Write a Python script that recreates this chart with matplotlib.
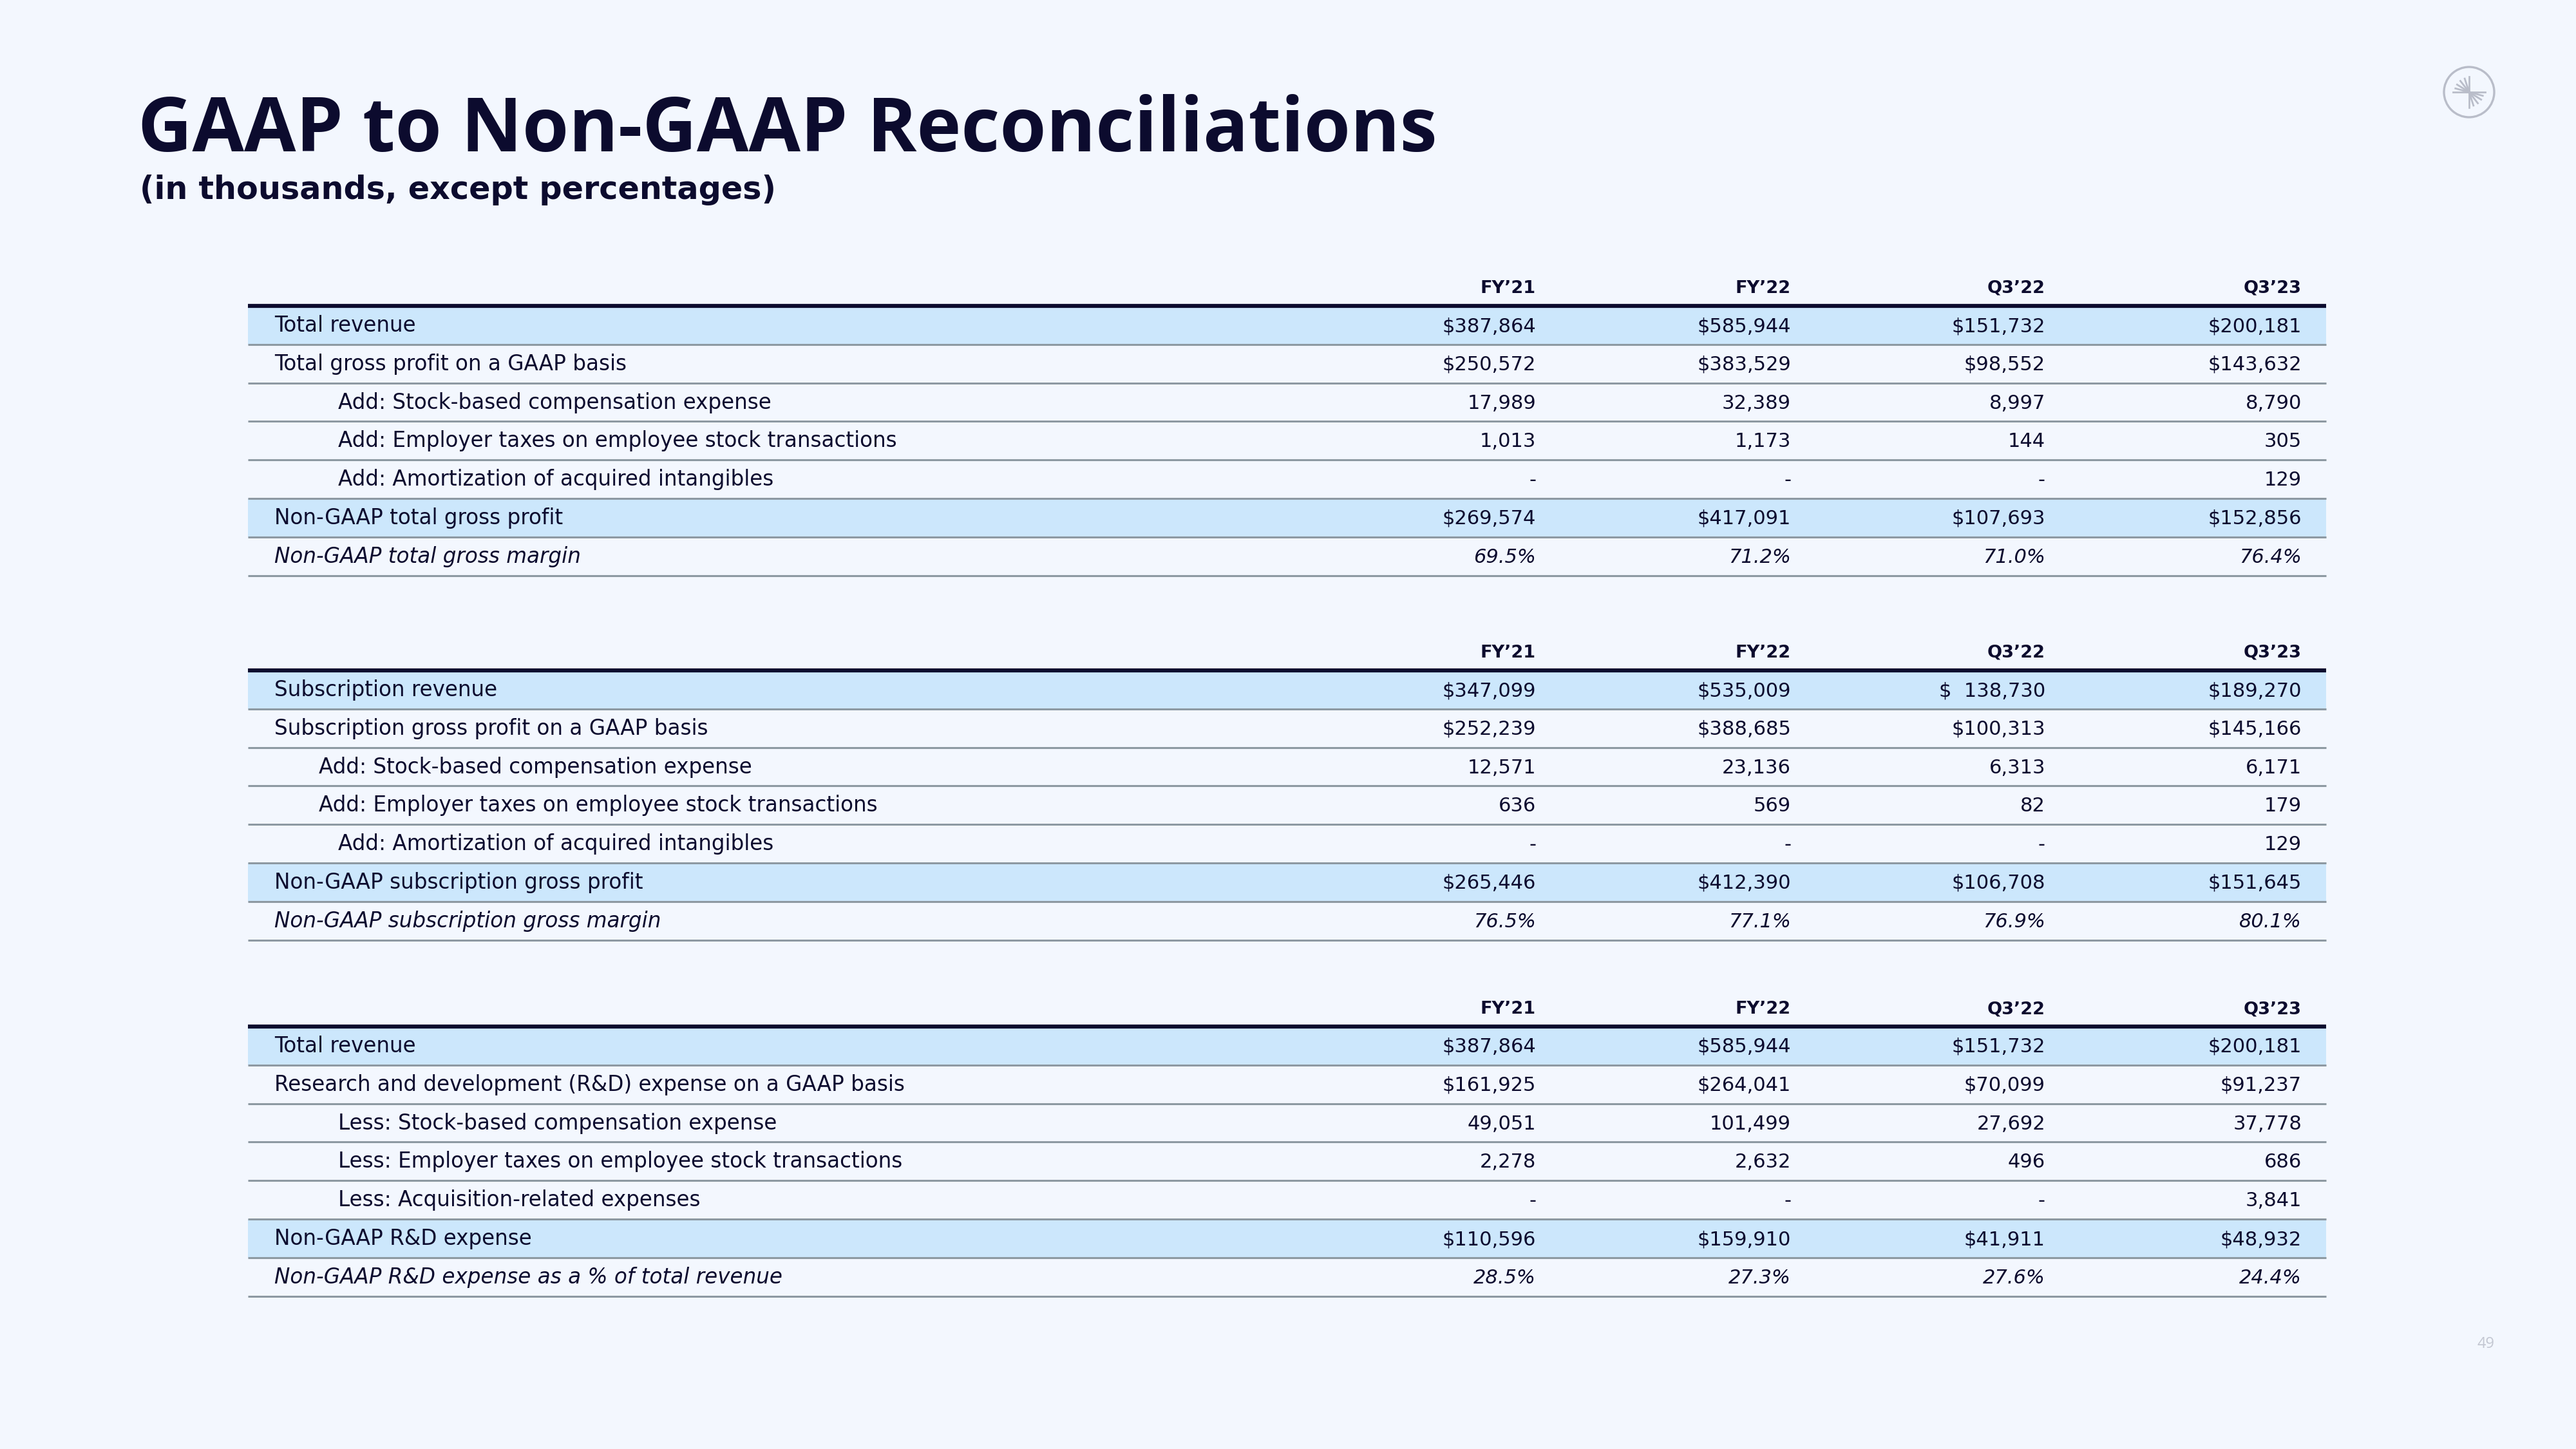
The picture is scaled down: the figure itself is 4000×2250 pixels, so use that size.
import matplotlib.pyplot as plt
from matplotlib.patches import Rectangle, Circle
import numpy as np

# ---- data ----
periods = ["FY\u201921", "FY\u201922", "Q3\u201922", "Q3\u201923"]

gross_labels = [
    "Total revenue",
    "Total gross profit on a GAAP basis",
    "Add: Stock-based compensation expense",
    "Add: Employer taxes on employee stock transactions",
    "Add: Amortization of acquired intangibles",
    "Non-GAAP total gross profit",
    "Non-GAAP total gross margin",
]
gross_values = [
    ["$387,864", "$585,944", "$151,732", "$200,181"],
    ["$250,572", "$383,529", "$98,552", "$143,632"],
    ["17,989", "32,389", "8,997", "8,790"],
    ["1,013", "1,173", "144", "305"],
    ["-", "-", "-", "129"],
    ["$269,574", "$417,091", "$107,693", "$152,856"],
    ["69.5%", "71.2%", "71.0%", "76.4%"],
]

sub_labels = [
    "Subscription revenue",
    "Subscription gross profit on a GAAP basis",
    "Add: Stock-based compensation expense",
    "Add: Employer taxes on employee stock transactions",
    "Add: Amortization of acquired intangibles",
    "Non-GAAP subscription gross profit",
    "Non-GAAP subscription gross margin",
]
sub_values = [
    ["$347,099", "$535,009", "$  138,730", "$189,270"],
    ["$252,239", "$388,685", "$100,313", "$145,166"],
    ["12,571", "23,136", "6,313", "6,171"],
    ["636", "569", "82", "179"],
    ["-", "-", "-", "129"],
    ["$265,446", "$412,390", "$106,708", "$151,645"],
    ["76.5%", "77.1%", "76.9%", "80.1%"],
]

rd_labels = [
    "Total revenue",
    "Research and development (R&D) expense on a GAAP basis",
    "Less: Stock-based compensation expense",
    "Less: Employer taxes on employee stock transactions",
    "Less: Acquisition-related expenses",
    "Non-GAAP R&D expense",
    "Non-GAAP R&D expense as a % of total revenue",
]
rd_values = [
    ["$387,864", "$585,944", "$151,732", "$200,181"],
    ["$161,925", "$264,041", "$70,099", "$91,237"],
    ["49,051", "101,499", "27,692", "37,778"],
    ["2,278", "2,632", "496", "686"],
    ["-", "-", "-", "3,841"],
    ["$110,596", "$159,910", "$41,911", "$48,932"],
    ["28.5%", "27.3%", "27.6%", "24.4%"],
]

# ---- style / layout ----
BG = "#f3f7fe"
NAVY = "#0c0b2e"
BAND = "#cce7fc"
RULE = "#8d99a2"
GREY = "#b9bdc9"
TITLE_FONT = "Open Sans"
BODY_FONT = "DejaVu Sans"

TABLE_X0, TABLE_X1 = 385, 3612
LABEL_X = 426
COL_RIGHT = [2385, 2781, 3176, 3574]
ROW_H = 59.8
BAND_ROWS = (0, 5)
ITALIC_ROWS = (6,)

fig = plt.figure(figsize=(40, 22.5), dpi=100)
fig.patch.set_facecolor(BG)
ax = fig.add_axes([0, 0, 1, 1])
ax.set_xlim(0, 4000)
ax.set_ylim(2250, 0)
ax.axis("off")

ax.text(214, 235, "GAAP to Non-GAAP Reconciliations", fontsize=84,
        fontweight="bold", color=NAVY, family=TITLE_FONT, va="baseline")
ax.text(217, 309, "(in thousands, except percentages)", fontsize=35.5,
        fontweight="bold", color=NAVY, family=BODY_FONT, va="baseline")


def draw_table(top, labels, values, indents):
    # top = y of the thick rule under the header
    for j, p in enumerate(periods):
        ax.text(COL_RIGHT[j], top - 20, p, ha="right", va="baseline",
                fontsize=19.5, fontweight="bold", color=NAVY, family=BODY_FONT)
    for i, (lab, row) in enumerate(zip(labels, values)):
        y0 = top + i * ROW_H
        if i in BAND_ROWS:
            ax.add_patch(Rectangle((TABLE_X0, y0), TABLE_X1 - TABLE_X0, ROW_H,
                                   facecolor=BAND, edgecolor="none", zorder=0))
        style = "italic" if i in ITALIC_ROWS else "normal"
        ax.text(LABEL_X + indents[i], y0 + 40, lab, va="baseline", ha="left",
                fontsize=23.5, color=NAVY, family=BODY_FONT, style=style)
        for j, v in enumerate(row):
            ax.text(COL_RIGHT[j], y0 + 40, v, va="baseline", ha="right",
                    fontsize=22, color=NAVY, family=BODY_FONT, style=style)
        ax.hlines(y0 + ROW_H, TABLE_X0, TABLE_X1, color=RULE, lw=2.2, zorder=2)
    ax.hlines(top, TABLE_X0, TABLE_X1, color=NAVY, lw=4.5, zorder=3)


draw_table(475, gross_labels, gross_values, [0, 0, 99, 99, 99, 0, 0])
draw_table(1041, sub_labels, sub_values, [0, 0, 69, 69, 99, 0, 0])
draw_table(1594, rd_labels, rd_values, [0, 0, 99, 99, 99, 0, 0])

# logo, top right
cx, cy, r = 3834, 143, 39
ax.add_patch(Circle((cx, cy), r, fill=False, edgecolor=GREY, lw=2.4))
ax.plot([cx, cx], [cy - 24, cy + 24], color=GREY, lw=2)
ax.plot([cx - 25, cx + 25], [cy, cy], color=GREY, lw=2)
for a in (108, 128, 148, 165):
    for s in (0, 180):
        t = np.radians(a + s)
        ax.plot([cx, cx + 22 * np.cos(t)], [cy, cy - 22 * np.sin(t)],
                color=GREY, lw=2)

ax.text(3860, 2087, "49", fontsize=17, color="#c3c7d2", family=TITLE_FONT,
        ha="center", va="center")

fig.savefig("out.png", dpi=100, facecolor=BG)
